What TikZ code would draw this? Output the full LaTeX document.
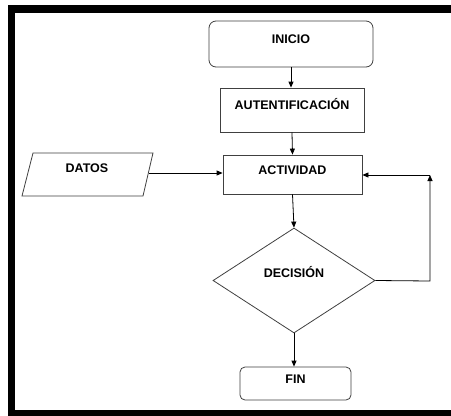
\documentclass[tikz,border=0pt]{standalone}
\usepackage{fontspec}
\setmainfont{Liberation Sans}
\usetikzlibrary{shapes.geometric,arrows.meta}
\tikzset{
  shp/.style={draw=black!75, line width=0.8pt, fill=white, inner sep=0pt,
    font=\fontsize{12.5}{14}\selectfont\bfseries, text height=9pt, text depth=10pt},
  term/.style={shp, rounded corners=7pt},
  proc/.style={shp},
  arr/.style={draw=black, line width=0.8pt, -{Triangle[length=6pt,width=5pt]}},
  ln/.style={draw=black!75, line width=0.8pt}
}
\begin{document}
\begin{tikzpicture}[x=1pt,y=-1pt]
\useasboundingbox (0,0) rectangle (451,416);
\fill[white] (0,0) rectangle (451,416);
% frame
\fill[black] (8,5) rectangle (451,13);
\fill[black] (8,5) rectangle (15,416);
\fill[black] (8,410) rectangle (451,416);

\node[term, minimum width=164pt, minimum height=46pt] (inicio) at (291,44) {INICIO};
\node[proc, minimum width=144pt, minimum height=44pt] (aut) at (292,110) {AUTENTIFICACIÓN};
\node[proc, minimum width=139pt, minimum height=39pt] (act) at (292.5,174.5) {ACTIVIDAD};
\node[shp, diamond, draw=black!75, minimum width=162pt, minimum height=105pt, text height=9pt, text depth=15pt] (dec) at (294,280.5) {DECISIÓN};
\node[term, rounded corners=5pt, minimum width=111pt, minimum height=33pt] (fin) at (295.5,383.5) {FIN};

% DATOS parallelogram
\draw[ln, fill=white] (33,153) -- (153,153) -- (143,196) -- (22,196) -- cycle;
\node[font=\fontsize{12.5}{14}\selectfont\bfseries, inner sep=0pt] (datos) at (87,168) {DATOS};
\coordinate (dout) at (149,173);

\coordinate (c1) at (430,281);
\coordinate (c2) at (430,175);

\draw[arr] (inicio.south) -- (inicio.south |- aut.north);
\draw[arr] (aut.south) -- (act.north);
\draw[arr] (dout) -- (act.west |- dout);
\draw[arr] (act.south) -- (dec.north);
\draw[arr] (dec.south) -- (dec.south |- fin.north);
\draw[arr] (dec.east) -- (c1) -- (c2);
\draw[arr] (c2) -- (act.east |- c2);
\end{tikzpicture}
\end{document}
